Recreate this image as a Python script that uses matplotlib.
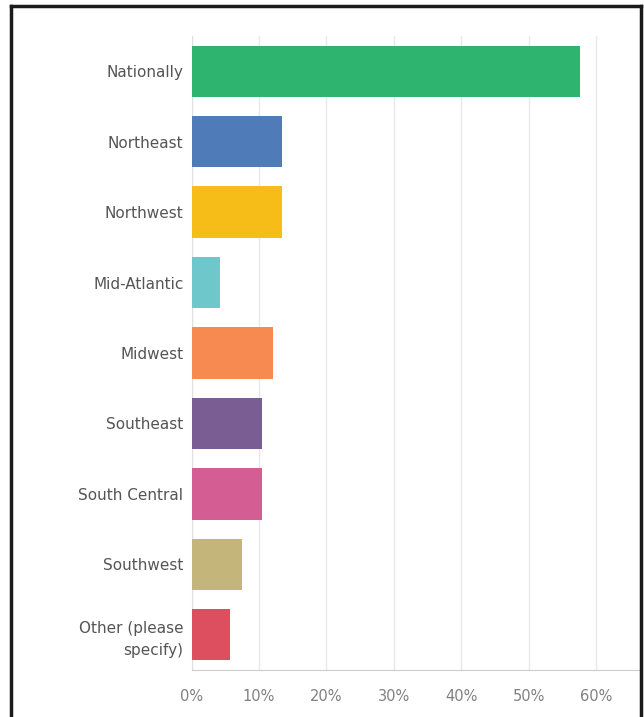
import matplotlib
matplotlib.use("Agg")
import matplotlib.pyplot as plt
from matplotlib.lines import Line2D

# survey answer choices, top to bottom
regions = ["Nationally", "Northeast", "Northwest", "Mid-Atlantic", "Midwest",
           "Southeast", "South Central", "Southwest", "Other (please\nspecify)"]
percent = [57.7, 13.4, 13.4, 4.2, 12.0, 10.4, 10.4, 7.5, 5.7]
colors = ["#2eb46f", "#4f7bb9", "#f6bd18", "#6ec8cb", "#f68a51",
          "#7a5d93", "#d45e93", "#c4b67b", "#dd4f5e"]
xticks = [0, 10, 20, 30, 40, 50, 60]
xtick_labels = ["0%", "10%", "20%", "30%", "40%", "50%", "60%"]

fig = plt.figure(figsize=(6.44, 7.17), dpi=100)
ax = fig.add_axes([0.2977, 0.0656, 0.6978, 0.8842])

ypos = list(range(len(regions)))
ax.barh(ypos, percent, height=0.73, color=colors, zorder=3)

ax.set_ylim(len(regions) - 0.5, -0.5)
ax.set_xlim(0, 66.7)
ax.set_yticks(ypos)
ax.set_yticklabels(regions, fontsize=11, color="#555555", linespacing=1.6)
ax.set_xticks(xticks)
ax.set_xticklabels(xtick_labels, fontsize=10.5, color="#808080")
ax.tick_params(axis="both", length=0)
ax.tick_params(axis="y", pad=6)
ax.tick_params(axis="x", pad=14)
ax.grid(axis="x", color="#e8e8e8", linewidth=1, zorder=0)

for s in ["top", "right"]:
    ax.spines[s].set_visible(False)
ax.spines["left"].set_color("#e0e0e0")
ax.spines["bottom"].set_color("#cccccc")

# black frame around the picture (no bottom edge)
kw = dict(color="#1a1a1a", linewidth=2.5, transform=fig.transFigure)
fig.add_artist(Line2D([11/644, 11/644], [0, 1 - 6/717], **kw))
fig.add_artist(Line2D([11/644, 641/644], [1 - 6/717, 1 - 6/717], **kw))
fig.add_artist(Line2D([641/644, 641/644], [0, 1 - 6/717], **kw))

fig.savefig("out.png", dpi=100)
